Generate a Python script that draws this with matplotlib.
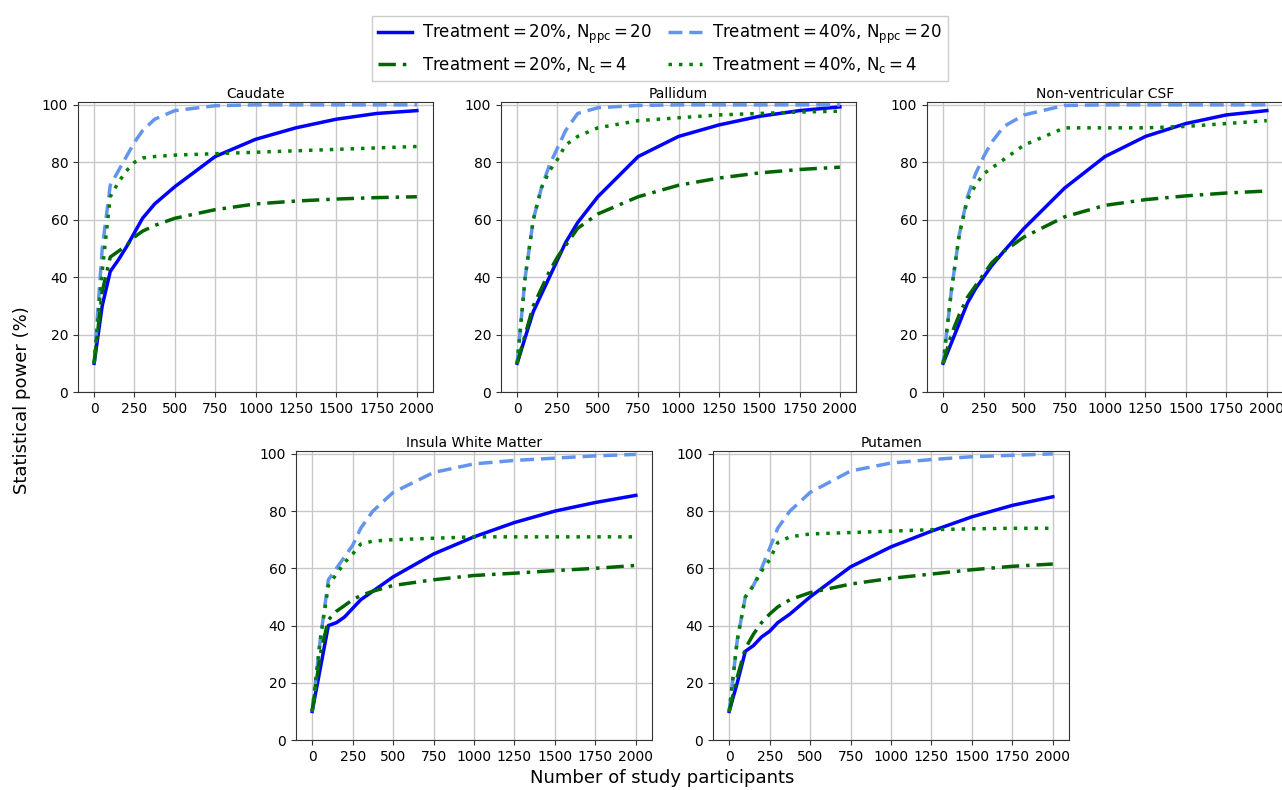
import matplotlib
matplotlib.use("Agg")
import matplotlib.pyplot as plt

W, H = 1282, 790

# participants (x) common to all curves
n_participants = [0, 50, 100, 150, 200, 250, 300, 375, 500, 750, 1000, 1250, 1500, 1750, 2000]

regions = ["Caudate", "Pallidum", "Non-ventricular CSF", "Insula White Matter", "Putamen"]

# treatment 20%, N_ppc = 20
t20_ppc = {
    "Caudate":             [10, 30, 42, 46, 50.5, 55.5, 60.5, 65.5, 71.5, 82, 88, 92, 95, 97, 98],
    "Pallidum":            [10, 19, 28, 34, 40, 46, 52, 59, 68, 82, 89, 93, 96, 98, 99.3],
    "Non-ventricular CSF": [10, 17, 24, 31, 36, 40, 44, 49, 57, 71, 82, 89, 93.5, 96.5, 98],
    "Insula White Matter": [10, 25, 40, 41, 43, 46, 49, 52, 57, 65, 71, 76, 80, 83, 85.5],
    "Putamen":             [10, 20, 31, 33, 36, 38, 41, 44, 50, 60.5, 67.5, 73, 78, 82, 85],
}
# treatment 40%, N_ppc = 20
t40_ppc = {
    "Caudate":             [10, 50, 72, 77, 82, 87, 91, 95, 98, 99.7, 100, 100, 100, 100, 100],
    "Pallidum":            [10, 40, 60, 71, 79, 85, 91, 97, 99, 99.8, 100, 100, 100, 100, 100],
    "Non-ventricular CSF": [10, 35, 55, 68, 76, 82, 87, 92.5, 96.5, 99.8, 100, 100, 100, 100, 100],
    "Insula White Matter": [10, 35, 56, 60, 64, 68, 74, 80, 86.5, 93.5, 96.5, 97.7, 98.5, 99.3, 99.8],
    "Putamen":             [10, 35, 50, 54, 60, 67, 74, 80, 86.5, 94, 96.8, 98, 99, 99.5, 100],
}
# treatment 20%, N_c = 4
t20_nc = {
    "Caudate":             [10, 35, 47, 49, 51, 54, 56, 58, 60.5, 63.5, 65.5, 66.5, 67.2, 67.7, 68],
    "Pallidum":            [10, 20, 30, 36, 42, 47, 51, 57, 62, 68, 72, 74.5, 76.3, 77.5, 78.3],
    "Non-ventricular CSF": [10, 20, 27, 33, 37, 41, 45, 49, 54, 61, 65, 67, 68.3, 69.3, 70],
    "Insula White Matter": [10, 30, 42, 45, 47, 49, 50.5, 52, 54, 56, 57.5, 58.3, 59.2, 60, 61],
    "Putamen":             [10, 22, 32, 37, 41, 44, 46.5, 49, 51.5, 54.5, 56.5, 58, 59.5, 60.7, 61.5],
}
# treatment 40%, N_c = 4
t40_nc = {
    "Caudate":             [10, 42, 68, 73, 77, 80, 81.5, 82, 82.5, 83, 83.5, 84, 84.5, 85, 85.5],
    "Pallidum":            [10, 40, 60, 71, 77, 81, 86, 89, 92, 94.5, 95.5, 96.5, 97, 97.5, 97.8],
    "Non-ventricular CSF": [10, 35, 55, 67, 72, 76, 78, 81, 86, 92, 92, 92, 92.5, 93.5, 94.5],
    "Insula White Matter": [10, 35, 54, 58, 62, 65, 68.5, 69.5, 70, 70.5, 71, 71, 71, 71, 71],
    "Putamen":             [10, 35, 50, 54, 59, 63, 69, 71, 72, 72.5, 73, 73.5, 73.8, 74, 74],
}

labels = [r"Treatment$\,$=$\,$20%, N$_{\mathrm{ppc}}$$\,$=$\,$20",
          r"Treatment$\,$=$\,$40%, N$_{\mathrm{ppc}}$$\,$=$\,$20",
          r"Treatment$\,$=$\,$20%, N$_{\mathrm{c}}$$\,$=$\,$4",
          r"Treatment$\,$=$\,$40%, N$_{\mathrm{c}}$$\,$=$\,$4"]

# axes boxes in pixels: left, top, right, bottom
boxes = {
    "Caudate": (78, 102, 433, 392),
    "Pallidum": (501, 102, 856, 392),
    "Non-ventricular CSF": (927, 102, 1283, 392),
    "Insula White Matter": (296, 451, 652, 740),
    "Putamen": (713, 451, 1069, 740),
}

fig = plt.figure(figsize=(W / 100, H / 100), dpi=100)

handles = []
for r in regions:
    l, t, rr, b = boxes[r]
    ax = fig.add_axes([l / W, (H - b) / H, (rr - l) / W, (b - t) / H])
    h1, = ax.plot(n_participants, t20_ppc[r], color="blue", lw=2.5, ls="-")
    h2, = ax.plot(n_participants, t40_ppc[r], color="cornflowerblue", lw=2.5, ls=(0, (4, 2)))
    h3, = ax.plot(n_participants, t20_nc[r], color="darkgreen", lw=2.5, ls=(0, (5, 2, 1, 2)))
    h4, = ax.plot(n_participants, t40_nc[r], color="green", lw=2.5, ls=(0, (1, 2)))
    handles = [h1, h2, h3, h4]
    ax.set_xlim(-100, 2100)
    ax.set_ylim(0, 101)
    ax.set_xticks([0, 250, 500, 750, 1000, 1250, 1500, 1750, 2000])
    ax.set_yticks([0, 20, 40, 60, 80, 100])
    ax.grid(True, color="#c8c8c8", lw=1)
    ax.set_axisbelow(True)
    ax.tick_params(labelsize=10, color="#333333")
    for s in ax.spines.values():
        s.set_color("#333333")
    ax.set_title(r, fontsize=10, pad=3)

# column-wise fill: first column 20% entries, second column 40% entries
fig.legend([handles[0], handles[2], handles[1], handles[3]],
           [labels[0], labels[2], labels[1], labels[3]],
           loc="upper center", bbox_to_anchor=(660 / W, 1 - 8 / H), ncol=2,
           fontsize=12, handlelength=2.0, columnspacing=1.0, handletextpad=0.6,
           fancybox=False, edgecolor="#cccccc", framealpha=1)

fig.text(22 / W, (H - 400) / H, "Statistical power (%)", rotation=90,
         ha="center", va="center", fontsize=13)
fig.text(662 / W, (H - 778) / H, "Number of study participants",
         ha="center", va="center", fontsize=13)

fig.savefig("out.png", dpi=100)
